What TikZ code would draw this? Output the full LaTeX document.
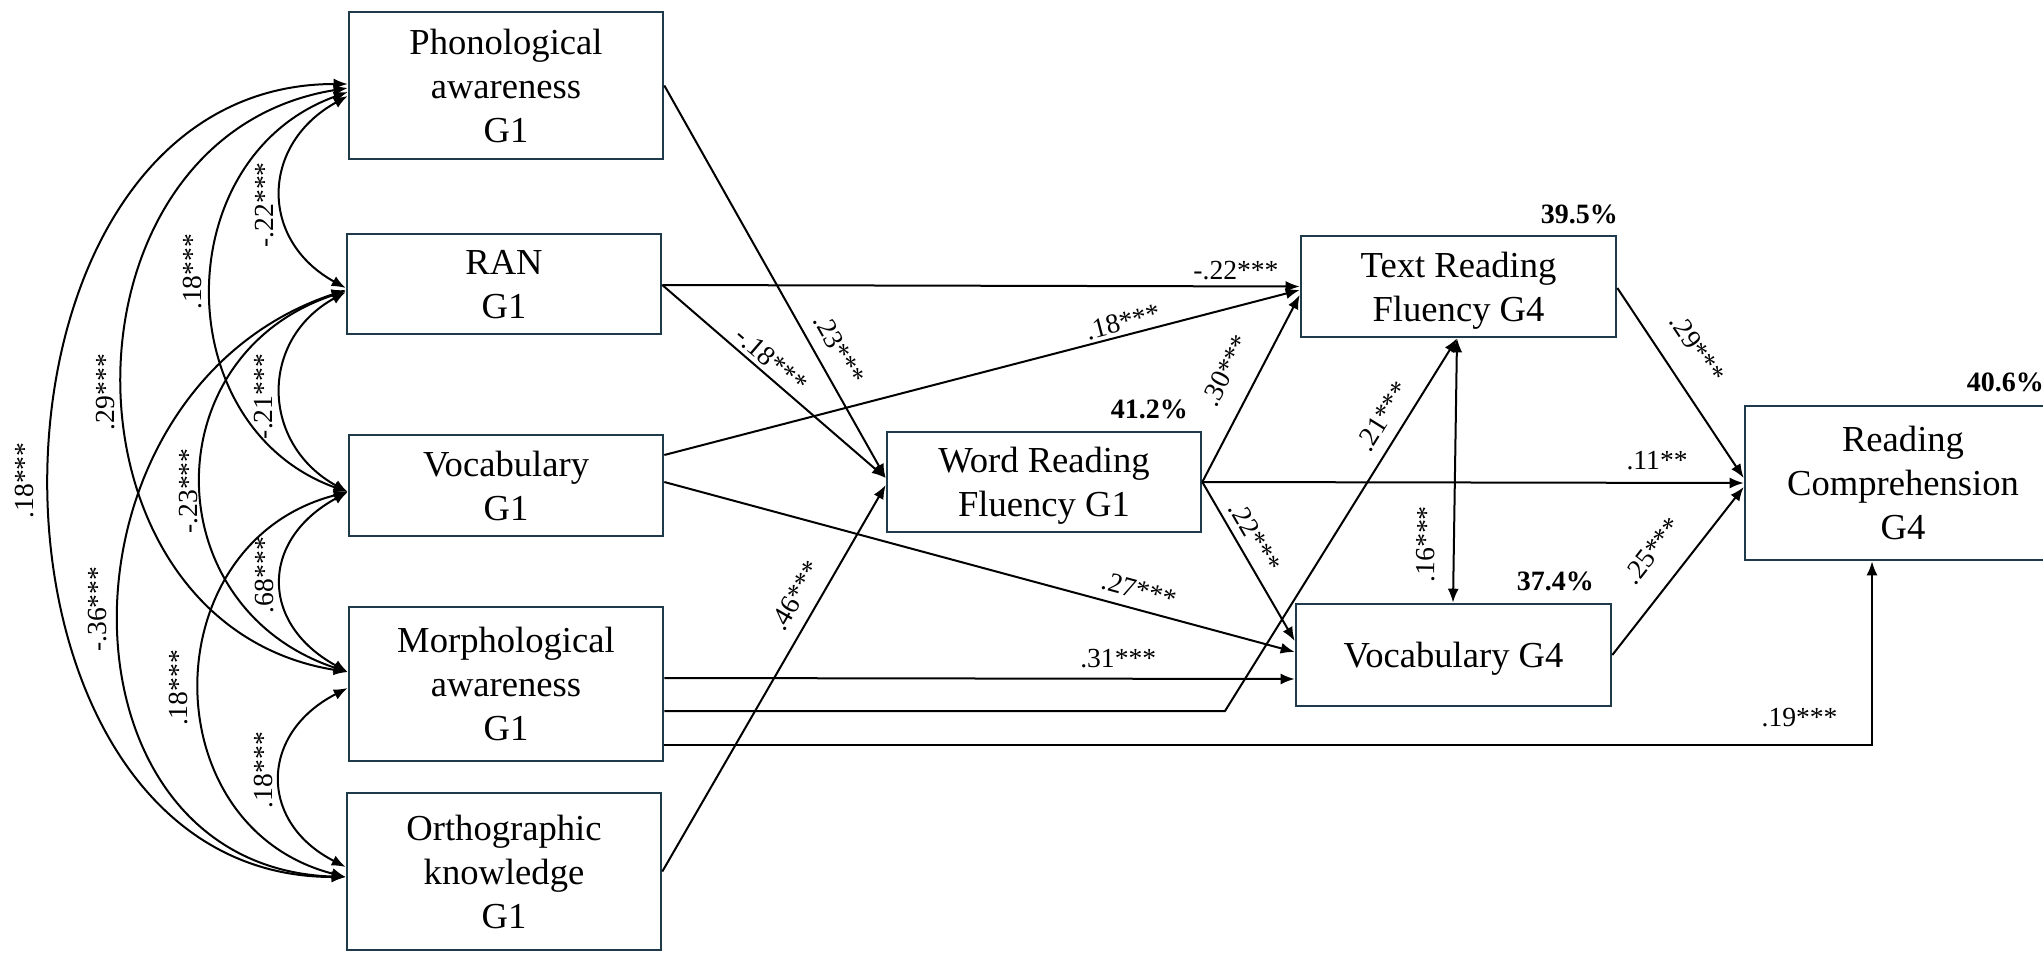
\documentclass[tikz,border=0pt]{standalone}
\usepackage{fontspec}
\setmainfont{Liberation Serif}
\usetikzlibrary{arrows.meta,calc}
\definecolor{boxc}{HTML}{1F3A4A}
\begin{document}
\begin{tikzpicture}[x=0.5pt,y=-0.5pt,
  box/.style={draw=boxc, line width=1.3pt, minimum width=157pt, inner sep=0pt, align=center,
    font=\fontsize{18.3pt}{22pt}\selectfont, text depth=0pt},
  arr/.style={line width=1pt, -{Latex[length=7pt,width=5.5pt]}},
  darr/.style={line width=1pt, {Latex[length=7pt,width=5.5pt]}-{Latex[length=7pt,width=5.5pt]}},
  lab/.style={font=\fontsize{13.8pt}{16pt}\selectfont, inner sep=1pt},
  clab/.style={lab, rotate=90, anchor=south, outer sep=3.3pt},
  pct/.style={font=\fontsize{14pt}{16pt}\selectfont\bfseries, inner sep=0pt, anchor=base east}
]
\useasboundingbox (0,0) rectangle (2043,952);

% boxes
\node[box, minimum height=73.5pt] (phon) at (506,85.5) {Phonological\\awareness\\G1};
\node[box, minimum height=50pt] (ran) at (504,284) {RAN\\G1};
\node[box, minimum height=50.5pt] (voc1) at (506,485.5) {Vocabulary\\G1};
\node[box, minimum height=77pt] (morph) at (506,684) {Morphological\\awareness\\G1};
\node[box, minimum height=78.5pt] (orth) at (504,871.5) {Orthographic\\knowledge\\G1};
\node[box, minimum height=50pt] (wrf) at (1044,482) {Word Reading\\Fluency G1};
\node[box, minimum width=157.5pt, minimum height=50.5pt] (trf) at (1458.5,286.5) {Text Reading\\Fluency G4};
\node[box, minimum width=157.5pt, minimum height=51pt] (voc4) at (1453.5,655) {Vocabulary G4};
\node[box, minimum width=158pt, minimum height=77pt] (rc) at (1903,483) {Reading\\Comprehension\\G4};

% R squared
\node[pct] (p41) at ($(wrf.north east)+(-14,-12)$) {41.2\%};
\node[pct] (p39) at ($(trf.north east)+(1,-11)$) {39.5\%};
\node[pct] (p37) at ($(voc4.north east)+(-18,-12)$) {37.4\%};
\node[pct] (p40) at ($(rc.north east)+(-18,-13)$) {40.6\%};

% straight paths
\draw[arr] (phon.east) -- node[lab,pos=.70,sloped,above,outer sep=5.7pt] {.23***} ($(wrf.west)+(0,-4)$);
\draw[arr] ($(ran.east)+(0,1)$) -- node[lab,pos=.445,sloped,above,outer sep=1.5pt] {-.18***} ($(wrf.west)+(0,-4)$);
\draw[arr] ($(ran.east)+(0,1)$) -- node[lab,pos=.9,above,outer sep=2.3pt] {-.22***} (trf.west);
\draw[arr] ($(voc1.east)+(0,-30.5)$) -- node[lab,pos=.727,sloped,above,outer sep=1.1pt] {.18***} ($(trf.west)+(0,3.5)$);
\draw[arr] ($(voc1.east)+(0,-3.5)$) -- node[lab,pos=.745,sloped,above,outer sep=3.9pt] {.27***} ($(voc4.west)+(0,-3)$);
\draw[arr] (wrf.east) -- node[lab,pos=.52,sloped,above,outer sep=9.7pt] {.30***} ($(trf.west)+(0,8.5)$);
\draw[arr] (wrf.east) -- node[lab,pos=.40,sloped,above,outer sep=3.2pt] {.22***} ($(voc4.west)+(0,-14)$);
\draw[arr] (wrf.east) -- node[lab,pos=.84,above,outer sep=5.3pt] {.11**} (rc.west);
\draw[darr] ($(voc4.north)+(-0.5,0)$) -- node[lab,pos=.22,sloped,above,outer sep=8.3pt] {.16***} ($(trf.south)+(-1.5,0)$);
\draw[arr] ($(trf.east)+(0,1.5)$) -- node[lab,pos=.414,sloped,above,outer sep=10.8pt] {.29***} ($(rc.west)+(0,-5)$);
\draw[arr] (voc4.east) -- node[lab,pos=.5,sloped,above,outer sep=10.8pt] {.25***} ($(rc.west)+(0,4)$);
\draw[arr] ($(morph.east)+(0,-6)$) -- node[lab,pos=.72,above,outer sep=4.3pt] {.31***} ($(voc4.west)+(0,24)$);
\coordinate (c21) at (1225,711);
\draw[arr] ($(morph.east)+(0,27)$) -- (c21) -- node[lab,pos=.76,sloped,above,outer sep=5.3pt] {.21***} ($(trf.south)+(-1.5,0)$);
\draw[arr] ($(morph.east)+(0,61)$) -| node[lab,pos=.47,above,outer sep=8.3pt] {.19***} ($(rc.south)+(-31,0)$);
\draw[arr] (orth.east) -- node[lab,pos=.684,sloped,above,outer sep=5.8pt] {.46***} ($(wrf.west)+(0,3)$);

% correlations
\draw[darr] ($(phon.west)+(0,10.5)$) .. controls +(-87,48) and +(-87,-48) .. ($(ran.west)+(0,4)$) node[clab,pos=.56] {-.22***};
\draw[darr] ($(phon.west)+(0,6.5)$) .. controls +(-181,65) and +(-181,-65) .. ($(voc1.west)+(0,6.5)$) node[clab,pos=.46,outer sep=4.3pt] {.18***};
\draw[darr] ($(phon.west)+(0,2.5)$) .. controls +(-299,48) and +(-299,-48) .. ($(morph.west)+(0,-12)$) node[clab,pos=.515] {.29***};
\draw[darr] ($(phon.west)+(0,-1.5)$) .. controls +(-395,0) and +(-395,0) .. ($(orth.west)+(0,5.5)$) node[clab,pos=.5,outer sep=7.3pt] {.18***};
\draw[darr] ($(ran.west)+(0,8)$) .. controls +(-87,48) and +(-87,-48) .. ($(voc1.west)+(0,6.5)$) node[clab,pos=.52] {-.21***};
\draw[darr] ($(ran.west)+(0,7)$) .. controls +(-193,64) and +(-193,-64) .. ($(morph.west)+(0,-12)$) node[clab,pos=.52,outer sep=1pt] {-.23***};
\draw[darr] ($(ran.west)+(0,6)$) .. controls +(-301,100) and +(-301,-10) .. ($(orth.west)+(0,5.5)$) node[clab,pos=.49,outer sep=5.8pt] {-.36***};
\draw[darr] ($(voc1.west)+(0,6.5)$) .. controls +(-88,48) and +(-88,-48) .. ($(morph.west)+(0,-12)$) node[clab,pos=.465] {.68***};
\draw[darr] ($(voc1.west)+(0,6.5)$) .. controls +(-195,50) and +(-195,-50) .. ($(orth.west)+(0,5.5)$) node[clab,pos=.507,outer sep=5.3pt] {.18***};
\draw[darr] ($(morph.west)+(0,4)$) .. controls +(-88,45) and +(-88,-45) .. ($(orth.west)+(0,-4.5)$) node[clab,pos=.463] {.18***};
\end{tikzpicture}
\end{document}
